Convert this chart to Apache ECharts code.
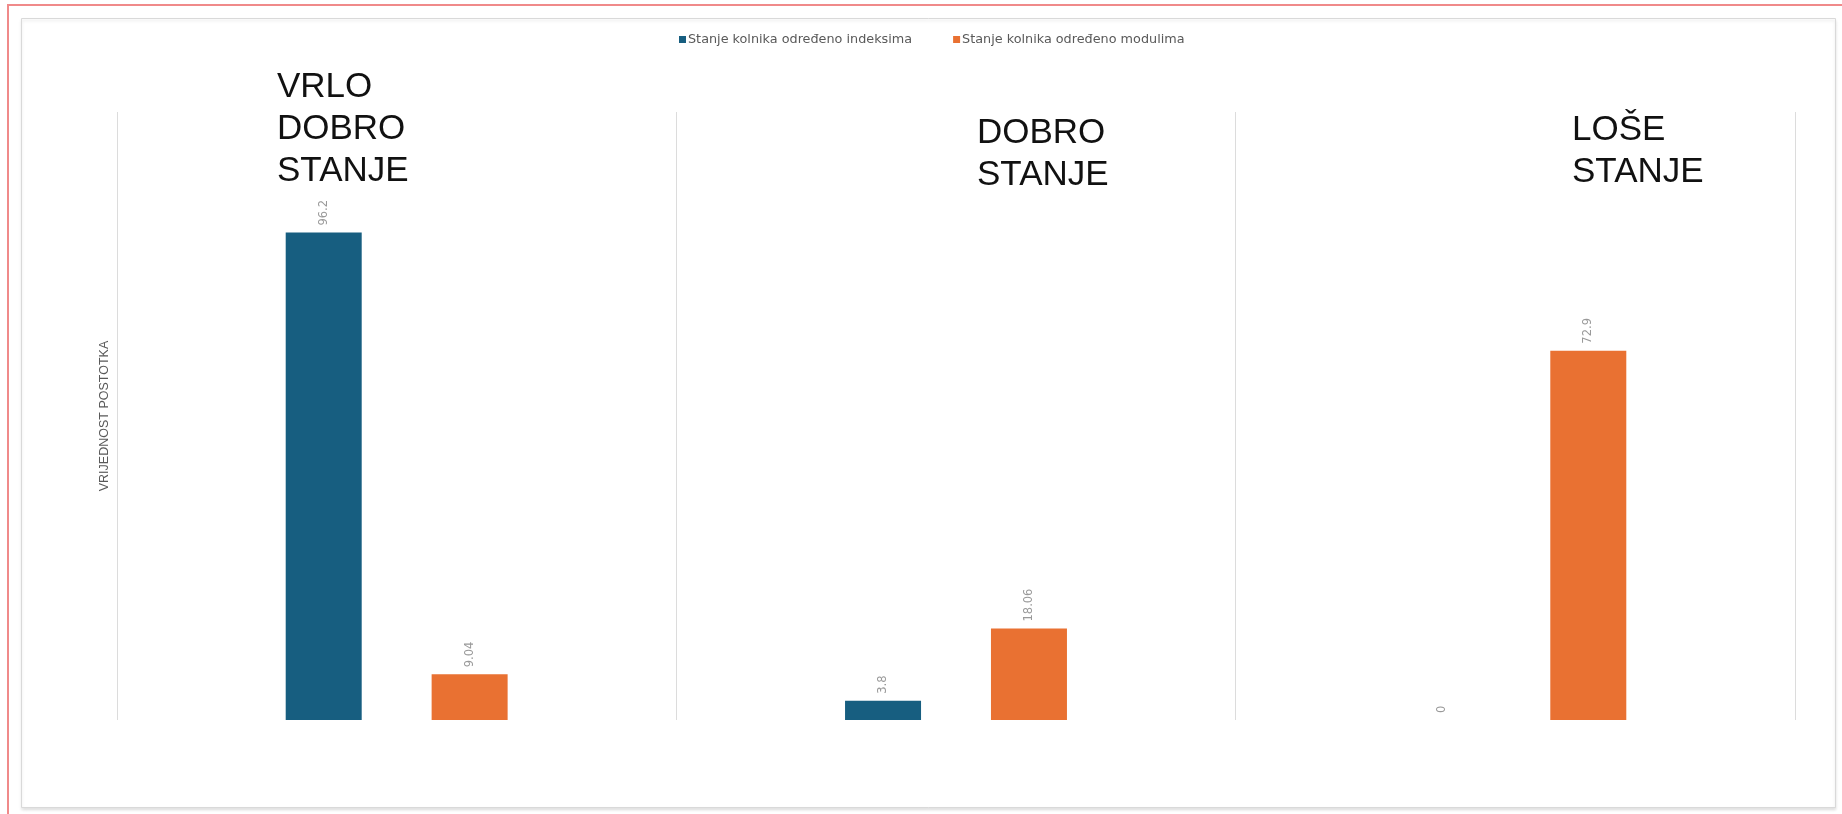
<!DOCTYPE html>
<html>
<head>
<meta charset="utf-8">
<script src="https://cdn.jsdelivr.net/npm/echarts@6/dist/echarts.min.js"></script>
<style>
  html, body { margin: 0; padding: 0; background: #ffffff; }
  #chart { width: 1842px; height: 814px; }
</style>
</head>
<body>
<div id="chart"></div>
<script>
// ---- Data ----
const categories = ['VRLO DOBRO STANJE', 'DOBRO STANJE', 'LOŠE STANJE'];
const categoryTitleLines = [['VRLO', 'DOBRO', 'STANJE'], ['DOBRO', 'STANJE'], ['LOŠE', 'STANJE']];
const seriesNames = ['Stanje kolnika određeno indeksima', 'Stanje kolnika određeno modulima'];
const valuesIndeksima = [96.2, 3.8, 0];
const valuesModulima = [9.04, 18.06, 72.9];
const yAxisName = 'VRIJEDNOST POSTOTKA';

// ---- Styles ----
const BLUE = '#175e80';
const ORANGE = '#e97132';
const titlePositions = [[277, 66], [977, 112], [1572, 109]];

const chart = echarts.init(document.getElementById('chart'), null, { renderer: 'canvas' });

const labelStyle = {
  show: true,
  position: 'top',
  rotate: 90,
  align: 'left',
  verticalAlign: 'middle',
  distance: 7,
  color: '#999999',
  fontSize: 11.5,
  fontFamily: 'DejaVu Sans',
  formatter: (p) => String(p.value)
};

const graphics = [
  // outer reddish frame
  { type: 'rect', silent: true, z: -10,
    shape: { x: 8, y: 5, width: 1900, height: 900 },
    style: { fill: 'none', stroke: '#f08a8a', lineWidth: 2 } },
  // inner gray chart frame
  { type: 'rect', silent: true, z: -10,
    shape: { x: 21.5, y: 18.5, width: 1814, height: 789 },
    style: { fill: '#ffffff', stroke: '#d9d9d9', lineWidth: 1,
             shadowColor: 'rgba(0,0,0,0.12)', shadowBlur: 3, shadowOffsetY: 2 } }
];
categoryTitleLines.forEach((lines, i) => {
  graphics.push({
    type: 'text', silent: true,
    left: titlePositions[i][0], top: titlePositions[i][1],
    style: {
      text: lines.join('\n'),
      fontSize: 35,
      lineHeight: 42,
      fontFamily: 'Liberation Sans',
      fill: '#111111'
    }
  });
});

const option = {
  backgroundColor: '#ffffff',
  animation: false,
  graphic: graphics,
  legend: {
    data: seriesNames,
    top: 33,
    left: 679,
    padding: 0,
    itemWidth: 7,
    itemHeight: 7,
    itemGap: 41,
    icon: 'rect',
    textStyle: { fontSize: 12.8, color: '#595959', fontFamily: 'DejaVu Sans', padding: [0, 0, 0, -3] }
  },
  grid: { left: 117, top: 112, width: 1678, height: 608 },
  xAxis: {
    type: 'category',
    data: categories,
    axisLine: { show: false },
    axisTick: { show: false },
    axisLabel: { show: false },
    splitLine: { show: true, lineStyle: { color: '#dcdcdc', width: 1 } }
  },
  yAxis: {
    type: 'value',
    min: 0,
    max: 120,
    interval: 20,
    name: yAxisName,
    nameLocation: 'middle',
    nameRotate: 90,
    nameGap: 6,
    nameTextStyle: { fontSize: 12.5, color: '#595959', fontFamily: 'Liberation Sans' },
    axisLine: { show: false },
    axisTick: { show: false },
    axisLabel: { show: false },
    splitLine: { show: false }
  },
  series: [
    {
      name: seriesNames[0],
      type: 'bar',
      data: valuesIndeksima,
      barWidth: 76,
      barGap: '92%',
      itemStyle: { color: BLUE },
      label: labelStyle
    },
    {
      name: seriesNames[1],
      type: 'bar',
      data: valuesModulima,
      barWidth: 76,
      barGap: '92%',
      itemStyle: { color: ORANGE },
      label: labelStyle
    }
  ]
};

chart.setOption(option);
</script>
</body>
</html>
